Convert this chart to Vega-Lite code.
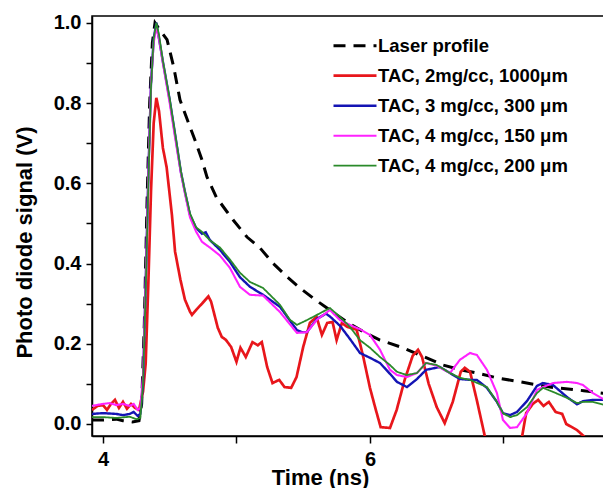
{
  "$schema": "https://vega.github.io/schema/vega-lite/v6.json",
  "width": 512,
  "height": 420,
  "autosize": {"type": "none"},
  "padding": {"left": 92, "top": 16, "right": 0, "bottom": 52},
  "config": {
    "font": "Liberation Sans",
    "view": {"stroke": "black", "strokeWidth": 1.5},
    "axis": {"grid": false, "domainColor": "black", "domainWidth": 1.5, "tickColor": "black", "tickWidth": 1.5, "labelFont": "Liberation Sans", "labelFontWeight": "bold", "labelFontSize": 20, "labelColor": "black", "titleFont": "Liberation Sans", "titleFontWeight": "bold", "titleFontSize": 22, "titleColor": "black"}
  },
  "data": {"values": [
    {"series":"Laser profile","t":3.918,"v":0.010},{"series":"Laser profile","t":4.00,"v":0.010},{"series":"Laser profile","t":4.10,"v":0.012},{"series":"Laser profile","t":4.15,"v":0.008},{"series":"Laser profile","t":4.22,"v":0.005},{"series":"Laser profile","t":4.27,"v":0.008},{"series":"Laser profile","t":4.29,"v":0.05},{"series":"Laser profile","t":4.31,"v":0.25},{"series":"Laser profile","t":4.33,"v":0.55},{"series":"Laser profile","t":4.35,"v":0.80},{"series":"Laser profile","t":4.37,"v":0.95},{"series":"Laser profile","t":4.39,"v":1.0},{"series":"Laser profile","t":4.42,"v":0.985},{"series":"Laser profile","t":4.48,"v":0.958},{"series":"Laser profile","t":4.53,"v":0.89},{"series":"Laser profile","t":4.577,"v":0.808},{"series":"Laser profile","t":4.63,"v":0.76},{"series":"Laser profile","t":4.689,"v":0.708},{"series":"Laser profile","t":4.74,"v":0.66},{"series":"Laser profile","t":4.779,"v":0.616},{"series":"Laser profile","t":4.85,"v":0.565},{"series":"Laser profile","t":4.929,"v":0.529},{"series":"Laser profile","t":4.974,"v":0.509},{"series":"Laser profile","t":5.079,"v":0.466},{"series":"Laser profile","t":5.176,"v":0.439},{"series":"Laser profile","t":5.273,"v":0.401},{"series":"Laser profile","t":5.378,"v":0.367},{"series":"Laser profile","t":5.476,"v":0.339},{"series":"Laser profile","t":5.573,"v":0.314},{"series":"Laser profile","t":5.678,"v":0.289},{"series":"Laser profile","t":5.828,"v":0.254},{"series":"Laser profile","t":5.95,"v":0.23},{"series":"Laser profile","t":6.075,"v":0.209},{"series":"Laser profile","t":6.247,"v":0.19},{"series":"Laser profile","t":6.40,"v":0.168},{"series":"Laser profile","t":6.547,"v":0.147},{"series":"Laser profile","t":6.68,"v":0.135},{"series":"Laser profile","t":6.80,"v":0.127},{"series":"Laser profile","t":6.95,"v":0.115},{"series":"Laser profile","t":7.124,"v":0.105},{"series":"Laser profile","t":7.348,"v":0.092},{"series":"Laser profile","t":7.60,"v":0.083},{"series":"Laser profile","t":7.76,"v":0.076},

    {"series":"TAC, 2mg/cc, 1000μm","t":3.918,"v":0.035},{"series":"TAC, 2mg/cc, 1000μm","t":3.96,"v":0.045},{"series":"TAC, 2mg/cc, 1000μm","t":4.00,"v":0.047},{"series":"TAC, 2mg/cc, 1000μm","t":4.03,"v":0.035},{"series":"TAC, 2mg/cc, 1000μm","t":4.06,"v":0.05},{"series":"TAC, 2mg/cc, 1000μm","t":4.09,"v":0.06},{"series":"TAC, 2mg/cc, 1000μm","t":4.12,"v":0.04},{"series":"TAC, 2mg/cc, 1000μm","t":4.15,"v":0.055},{"series":"TAC, 2mg/cc, 1000μm","t":4.18,"v":0.038},{"series":"TAC, 2mg/cc, 1000μm","t":4.21,"v":0.05},{"series":"TAC, 2mg/cc, 1000μm","t":4.24,"v":0.04},{"series":"TAC, 2mg/cc, 1000μm","t":4.27,"v":0.035},{"series":"TAC, 2mg/cc, 1000μm","t":4.30,"v":0.08},{"series":"TAC, 2mg/cc, 1000μm","t":4.32,"v":0.15},{"series":"TAC, 2mg/cc, 1000μm","t":4.34,"v":0.35},{"series":"TAC, 2mg/cc, 1000μm","t":4.36,"v":0.58},{"series":"TAC, 2mg/cc, 1000μm","t":4.38,"v":0.75},{"series":"TAC, 2mg/cc, 1000μm","t":4.40,"v":0.813},{"series":"TAC, 2mg/cc, 1000μm","t":4.42,"v":0.78},{"series":"TAC, 2mg/cc, 1000μm","t":4.449,"v":0.688},{"series":"TAC, 2mg/cc, 1000μm","t":4.477,"v":0.64},{"series":"TAC, 2mg/cc, 1000μm","t":4.517,"v":0.52},{"series":"TAC, 2mg/cc, 1000μm","t":4.54,"v":0.43},{"series":"TAC, 2mg/cc, 1000μm","t":4.58,"v":0.36},{"series":"TAC, 2mg/cc, 1000μm","t":4.614,"v":0.31},{"series":"TAC, 2mg/cc, 1000μm","t":4.652,"v":0.28},{"series":"TAC, 2mg/cc, 1000μm","t":4.667,"v":0.272},{"series":"TAC, 2mg/cc, 1000μm","t":4.70,"v":0.285},{"series":"TAC, 2mg/cc, 1000μm","t":4.742,"v":0.30},{"series":"TAC, 2mg/cc, 1000μm","t":4.79,"v":0.318},{"series":"TAC, 2mg/cc, 1000μm","t":4.81,"v":0.305},{"series":"TAC, 2mg/cc, 1000μm","t":4.86,"v":0.24},{"series":"TAC, 2mg/cc, 1000μm","t":4.89,"v":0.217},{"series":"TAC, 2mg/cc, 1000μm","t":4.92,"v":0.21},{"series":"TAC, 2mg/cc, 1000μm","t":4.96,"v":0.192},{"series":"TAC, 2mg/cc, 1000μm","t":5.00,"v":0.155},{"series":"TAC, 2mg/cc, 1000μm","t":5.03,"v":0.19},{"series":"TAC, 2mg/cc, 1000μm","t":5.07,"v":0.167},{"series":"TAC, 2mg/cc, 1000μm","t":5.12,"v":0.204},{"series":"TAC, 2mg/cc, 1000μm","t":5.16,"v":0.196},{"series":"TAC, 2mg/cc, 1000μm","t":5.19,"v":0.204},{"series":"TAC, 2mg/cc, 1000μm","t":5.23,"v":0.142},{"series":"TAC, 2mg/cc, 1000μm","t":5.27,"v":0.102},{"series":"TAC, 2mg/cc, 1000μm","t":5.32,"v":0.11},{"series":"TAC, 2mg/cc, 1000μm","t":5.36,"v":0.092},{"series":"TAC, 2mg/cc, 1000μm","t":5.41,"v":0.09},{"series":"TAC, 2mg/cc, 1000μm","t":5.45,"v":0.117},{"series":"TAC, 2mg/cc, 1000μm","t":5.50,"v":0.192},{"series":"TAC, 2mg/cc, 1000μm","t":5.55,"v":0.252},{"series":"TAC, 2mg/cc, 1000μm","t":5.60,"v":0.267},{"series":"TAC, 2mg/cc, 1000μm","t":5.64,"v":0.222},{"series":"TAC, 2mg/cc, 1000μm","t":5.68,"v":0.252},{"series":"TAC, 2mg/cc, 1000μm","t":5.72,"v":0.254},{"series":"TAC, 2mg/cc, 1000μm","t":5.75,"v":0.209},{"series":"TAC, 2mg/cc, 1000μm","t":5.79,"v":0.252},{"series":"TAC, 2mg/cc, 1000μm","t":5.83,"v":0.242},{"series":"TAC, 2mg/cc, 1000μm","t":5.90,"v":0.235},{"series":"TAC, 2mg/cc, 1000μm","t":5.95,"v":0.167},{"series":"TAC, 2mg/cc, 1000μm","t":6.00,"v":0.09},{"series":"TAC, 2mg/cc, 1000μm","t":6.04,"v":0.04},{"series":"TAC, 2mg/cc, 1000μm","t":6.08,"v":-0.008},{"series":"TAC, 2mg/cc, 1000μm","t":6.15,"v":-0.01},{"series":"TAC, 2mg/cc, 1000μm","t":6.20,"v":0.035},{"series":"TAC, 2mg/cc, 1000μm","t":6.26,"v":0.11},{"series":"TAC, 2mg/cc, 1000μm","t":6.32,"v":0.17},{"series":"TAC, 2mg/cc, 1000μm","t":6.36,"v":0.185},{"series":"TAC, 2mg/cc, 1000μm","t":6.39,"v":0.167},{"series":"TAC, 2mg/cc, 1000μm","t":6.44,"v":0.10},{"series":"TAC, 2mg/cc, 1000μm","t":6.50,"v":0.042},{"series":"TAC, 2mg/cc, 1000μm","t":6.56,"v":0.002},{"series":"TAC, 2mg/cc, 1000μm","t":6.62,"v":0.055},{"series":"TAC, 2mg/cc, 1000μm","t":6.68,"v":0.13},{"series":"TAC, 2mg/cc, 1000μm","t":6.71,"v":0.14},{"series":"TAC, 2mg/cc, 1000μm","t":6.75,"v":0.13},{"series":"TAC, 2mg/cc, 1000μm","t":6.80,"v":0.06},{"series":"TAC, 2mg/cc, 1000μm","t":6.86,"v":-0.03},{"series":"TAC, 2mg/cc, 1000μm","t":6.95,"v":-0.10},{"series":"TAC, 2mg/cc, 1000μm","t":7.05,"v":-0.10},{"series":"TAC, 2mg/cc, 1000μm","t":7.14,"v":-0.03},{"series":"TAC, 2mg/cc, 1000μm","t":7.17,"v":0.027},{"series":"TAC, 2mg/cc, 1000μm","t":7.22,"v":0.05},{"series":"TAC, 2mg/cc, 1000μm","t":7.26,"v":0.06},{"series":"TAC, 2mg/cc, 1000μm","t":7.30,"v":0.045},{"series":"TAC, 2mg/cc, 1000μm","t":7.34,"v":0.055},{"series":"TAC, 2mg/cc, 1000μm","t":7.39,"v":0.03},{"series":"TAC, 2mg/cc, 1000μm","t":7.44,"v":0.025},{"series":"TAC, 2mg/cc, 1000μm","t":7.47,"v":0.0},{"series":"TAC, 2mg/cc, 1000μm","t":7.55,"v":-0.015},{"series":"TAC, 2mg/cc, 1000μm","t":7.60,"v":-0.03},{"series":"TAC, 2mg/cc, 1000μm","t":7.65,"v":-0.05},

    {"series":"TAC, 3 mg/cc, 300 μm","t":3.918,"v":0.025},{"series":"TAC, 3 mg/cc, 300 μm","t":4.00,"v":0.027},{"series":"TAC, 3 mg/cc, 300 μm","t":4.10,"v":0.025},{"series":"TAC, 3 mg/cc, 300 μm","t":4.15,"v":0.022},{"series":"TAC, 3 mg/cc, 300 μm","t":4.20,"v":0.025},{"series":"TAC, 3 mg/cc, 300 μm","t":4.23,"v":0.030},{"series":"TAC, 3 mg/cc, 300 μm","t":4.26,"v":0.020},{"series":"TAC, 3 mg/cc, 300 μm","t":4.28,"v":0.025},{"series":"TAC, 3 mg/cc, 300 μm","t":4.30,"v":0.10},{"series":"TAC, 3 mg/cc, 300 μm","t":4.32,"v":0.35},{"series":"TAC, 3 mg/cc, 300 μm","t":4.34,"v":0.62},{"series":"TAC, 3 mg/cc, 300 μm","t":4.36,"v":0.85},{"series":"TAC, 3 mg/cc, 300 μm","t":4.38,"v":0.96},{"series":"TAC, 3 mg/cc, 300 μm","t":4.40,"v":1.0},{"series":"TAC, 3 mg/cc, 300 μm","t":4.42,"v":0.96},{"series":"TAC, 3 mg/cc, 300 μm","t":4.449,"v":0.903},{"series":"TAC, 3 mg/cc, 300 μm","t":4.50,"v":0.808},{"series":"TAC, 3 mg/cc, 300 μm","t":4.547,"v":0.708},{"series":"TAC, 3 mg/cc, 300 μm","t":4.584,"v":0.628},{"series":"TAC, 3 mg/cc, 300 μm","t":4.614,"v":0.579},{"series":"TAC, 3 mg/cc, 300 μm","t":4.652,"v":0.521},{"series":"TAC, 3 mg/cc, 300 μm","t":4.697,"v":0.489},{"series":"TAC, 3 mg/cc, 300 μm","t":4.742,"v":0.474},{"series":"TAC, 3 mg/cc, 300 μm","t":4.77,"v":0.478},{"series":"TAC, 3 mg/cc, 300 μm","t":4.80,"v":0.459},{"series":"TAC, 3 mg/cc, 300 μm","t":4.876,"v":0.434},{"series":"TAC, 3 mg/cc, 300 μm","t":4.951,"v":0.404},{"series":"TAC, 3 mg/cc, 300 μm","t":5.026,"v":0.366},{"series":"TAC, 3 mg/cc, 300 μm","t":5.101,"v":0.342},{"series":"TAC, 3 mg/cc, 300 μm","t":5.199,"v":0.322},{"series":"TAC, 3 mg/cc, 300 μm","t":5.326,"v":0.292},{"series":"TAC, 3 mg/cc, 300 μm","t":5.453,"v":0.234},{"series":"TAC, 3 mg/cc, 300 μm","t":5.49,"v":0.229},{"series":"TAC, 3 mg/cc, 300 μm","t":5.528,"v":0.229},{"series":"TAC, 3 mg/cc, 300 μm","t":5.603,"v":0.262},{"series":"TAC, 3 mg/cc, 300 μm","t":5.67,"v":0.275},{"series":"TAC, 3 mg/cc, 300 μm","t":5.70,"v":0.268},{"series":"TAC, 3 mg/cc, 300 μm","t":5.775,"v":0.245},{"series":"TAC, 3 mg/cc, 300 μm","t":5.85,"v":0.212},{"series":"TAC, 3 mg/cc, 300 μm","t":5.925,"v":0.177},{"series":"TAC, 3 mg/cc, 300 μm","t":6.00,"v":0.165},{"series":"TAC, 3 mg/cc, 300 μm","t":6.075,"v":0.152},{"series":"TAC, 3 mg/cc, 300 μm","t":6.15,"v":0.125},{"series":"TAC, 3 mg/cc, 300 μm","t":6.202,"v":0.105},{"series":"TAC, 3 mg/cc, 300 μm","t":6.277,"v":0.092},{"series":"TAC, 3 mg/cc, 300 μm","t":6.352,"v":0.112},{"series":"TAC, 3 mg/cc, 300 μm","t":6.42,"v":0.135},{"series":"TAC, 3 mg/cc, 300 μm","t":6.524,"v":0.142},{"series":"TAC, 3 mg/cc, 300 μm","t":6.599,"v":0.127},{"series":"TAC, 3 mg/cc, 300 μm","t":6.674,"v":0.112},{"series":"TAC, 3 mg/cc, 300 μm","t":6.749,"v":0.11},{"series":"TAC, 3 mg/cc, 300 μm","t":6.80,"v":0.11},{"series":"TAC, 3 mg/cc, 300 μm","t":6.876,"v":0.09},{"series":"TAC, 3 mg/cc, 300 μm","t":6.951,"v":0.055},{"series":"TAC, 3 mg/cc, 300 μm","t":6.996,"v":0.027},{"series":"TAC, 3 mg/cc, 300 μm","t":7.049,"v":0.022},{"series":"TAC, 3 mg/cc, 300 μm","t":7.101,"v":0.03},{"series":"TAC, 3 mg/cc, 300 μm","t":7.176,"v":0.057},{"series":"TAC, 3 mg/cc, 300 μm","t":7.251,"v":0.095},{"series":"TAC, 3 mg/cc, 300 μm","t":7.296,"v":0.102},{"series":"TAC, 3 mg/cc, 300 μm","t":7.371,"v":0.097},{"series":"TAC, 3 mg/cc, 300 μm","t":7.476,"v":0.067},{"series":"TAC, 3 mg/cc, 300 μm","t":7.551,"v":0.049},{"series":"TAC, 3 mg/cc, 300 μm","t":7.596,"v":0.057},{"series":"TAC, 3 mg/cc, 300 μm","t":7.670,"v":0.06},{"series":"TAC, 3 mg/cc, 300 μm","t":7.76,"v":0.06},

    {"series":"TAC, 4 mg/cc, 150 μm","t":3.918,"v":0.045},{"series":"TAC, 4 mg/cc, 150 μm","t":4.00,"v":0.05},{"series":"TAC, 4 mg/cc, 150 μm","t":4.05,"v":0.052},{"series":"TAC, 4 mg/cc, 150 μm","t":4.10,"v":0.047},{"series":"TAC, 4 mg/cc, 150 μm","t":4.15,"v":0.05},{"series":"TAC, 4 mg/cc, 150 μm","t":4.20,"v":0.045},{"series":"TAC, 4 mg/cc, 150 μm","t":4.23,"v":0.05},{"series":"TAC, 4 mg/cc, 150 μm","t":4.26,"v":0.035},{"series":"TAC, 4 mg/cc, 150 μm","t":4.28,"v":0.04},{"series":"TAC, 4 mg/cc, 150 μm","t":4.30,"v":0.12},{"series":"TAC, 4 mg/cc, 150 μm","t":4.32,"v":0.35},{"series":"TAC, 4 mg/cc, 150 μm","t":4.34,"v":0.62},{"series":"TAC, 4 mg/cc, 150 μm","t":4.36,"v":0.85},{"series":"TAC, 4 mg/cc, 150 μm","t":4.38,"v":0.95},{"series":"TAC, 4 mg/cc, 150 μm","t":4.40,"v":0.99},{"series":"TAC, 4 mg/cc, 150 μm","t":4.42,"v":0.96},{"series":"TAC, 4 mg/cc, 150 μm","t":4.449,"v":0.9},{"series":"TAC, 4 mg/cc, 150 μm","t":4.50,"v":0.80},{"series":"TAC, 4 mg/cc, 150 μm","t":4.547,"v":0.70},{"series":"TAC, 4 mg/cc, 150 μm","t":4.584,"v":0.625},{"series":"TAC, 4 mg/cc, 150 μm","t":4.614,"v":0.575},{"series":"TAC, 4 mg/cc, 150 μm","t":4.652,"v":0.515},{"series":"TAC, 4 mg/cc, 150 μm","t":4.697,"v":0.48},{"series":"TAC, 4 mg/cc, 150 μm","t":4.742,"v":0.454},{"series":"TAC, 4 mg/cc, 150 μm","t":4.80,"v":0.44},{"series":"TAC, 4 mg/cc, 150 μm","t":4.876,"v":0.42},{"series":"TAC, 4 mg/cc, 150 μm","t":4.951,"v":0.389},{"series":"TAC, 4 mg/cc, 150 μm","t":5.026,"v":0.342},{"series":"TAC, 4 mg/cc, 150 μm","t":5.101,"v":0.322},{"series":"TAC, 4 mg/cc, 150 μm","t":5.199,"v":0.32},{"series":"TAC, 4 mg/cc, 150 μm","t":5.326,"v":0.279},{"series":"TAC, 4 mg/cc, 150 μm","t":5.453,"v":0.227},{"series":"TAC, 4 mg/cc, 150 μm","t":5.528,"v":0.229},{"series":"TAC, 4 mg/cc, 150 μm","t":5.603,"v":0.26},{"series":"TAC, 4 mg/cc, 150 μm","t":5.70,"v":0.284},{"series":"TAC, 4 mg/cc, 150 μm","t":5.775,"v":0.259},{"series":"TAC, 4 mg/cc, 150 μm","t":5.85,"v":0.247},{"series":"TAC, 4 mg/cc, 150 μm","t":5.925,"v":0.236},{"series":"TAC, 4 mg/cc, 150 μm","t":6.00,"v":0.222},{"series":"TAC, 4 mg/cc, 150 μm","t":6.075,"v":0.185},{"series":"TAC, 4 mg/cc, 150 μm","t":6.15,"v":0.135},{"series":"TAC, 4 mg/cc, 150 μm","t":6.202,"v":0.122},{"series":"TAC, 4 mg/cc, 150 μm","t":6.277,"v":0.117},{"series":"TAC, 4 mg/cc, 150 μm","t":6.352,"v":0.127},{"series":"TAC, 4 mg/cc, 150 μm","t":6.42,"v":0.152},{"series":"TAC, 4 mg/cc, 150 μm","t":6.50,"v":0.145},{"series":"TAC, 4 mg/cc, 150 μm","t":6.599,"v":0.127},{"series":"TAC, 4 mg/cc, 150 μm","t":6.674,"v":0.16},{"series":"TAC, 4 mg/cc, 150 μm","t":6.749,"v":0.177},{"series":"TAC, 4 mg/cc, 150 μm","t":6.801,"v":0.172},{"series":"TAC, 4 mg/cc, 150 μm","t":6.876,"v":0.135},{"series":"TAC, 4 mg/cc, 150 μm","t":6.951,"v":0.077},{"series":"TAC, 4 mg/cc, 150 μm","t":6.996,"v":0.01},{"series":"TAC, 4 mg/cc, 150 μm","t":7.049,"v":-0.01},{"series":"TAC, 4 mg/cc, 150 μm","t":7.101,"v":-0.008},{"series":"TAC, 4 mg/cc, 150 μm","t":7.176,"v":0.027},{"series":"TAC, 4 mg/cc, 150 μm","t":7.251,"v":0.085},{"series":"TAC, 4 mg/cc, 150 μm","t":7.296,"v":0.092},{"series":"TAC, 4 mg/cc, 150 μm","t":7.371,"v":0.102},{"series":"TAC, 4 mg/cc, 150 μm","t":7.476,"v":0.105},{"series":"TAC, 4 mg/cc, 150 μm","t":7.551,"v":0.102},{"series":"TAC, 4 mg/cc, 150 μm","t":7.596,"v":0.097},{"series":"TAC, 4 mg/cc, 150 μm","t":7.670,"v":0.077},{"series":"TAC, 4 mg/cc, 150 μm","t":7.76,"v":0.06},

    {"series":"TAC, 4 mg/cc, 200 μm","t":3.918,"v":0.017},{"series":"TAC, 4 mg/cc, 200 μm","t":4.00,"v":0.017},{"series":"TAC, 4 mg/cc, 200 μm","t":4.10,"v":0.015},{"series":"TAC, 4 mg/cc, 200 μm","t":4.20,"v":0.018},{"series":"TAC, 4 mg/cc, 200 μm","t":4.25,"v":0.012},{"series":"TAC, 4 mg/cc, 200 μm","t":4.28,"v":0.015},{"series":"TAC, 4 mg/cc, 200 μm","t":4.30,"v":0.10},{"series":"TAC, 4 mg/cc, 200 μm","t":4.32,"v":0.33},{"series":"TAC, 4 mg/cc, 200 μm","t":4.34,"v":0.60},{"series":"TAC, 4 mg/cc, 200 μm","t":4.36,"v":0.84},{"series":"TAC, 4 mg/cc, 200 μm","t":4.38,"v":0.96},{"series":"TAC, 4 mg/cc, 200 μm","t":4.40,"v":1.0},{"series":"TAC, 4 mg/cc, 200 μm","t":4.42,"v":0.97},{"series":"TAC, 4 mg/cc, 200 μm","t":4.449,"v":0.905},{"series":"TAC, 4 mg/cc, 200 μm","t":4.50,"v":0.81},{"series":"TAC, 4 mg/cc, 200 μm","t":4.547,"v":0.71},{"series":"TAC, 4 mg/cc, 200 μm","t":4.584,"v":0.63},{"series":"TAC, 4 mg/cc, 200 μm","t":4.614,"v":0.58},{"series":"TAC, 4 mg/cc, 200 μm","t":4.652,"v":0.525},{"series":"TAC, 4 mg/cc, 200 μm","t":4.697,"v":0.49},{"series":"TAC, 4 mg/cc, 200 μm","t":4.742,"v":0.479},{"series":"TAC, 4 mg/cc, 200 μm","t":4.80,"v":0.458},{"series":"TAC, 4 mg/cc, 200 μm","t":4.876,"v":0.44},{"series":"TAC, 4 mg/cc, 200 μm","t":4.951,"v":0.41},{"series":"TAC, 4 mg/cc, 200 μm","t":5.026,"v":0.377},{"series":"TAC, 4 mg/cc, 200 μm","t":5.101,"v":0.354},{"series":"TAC, 4 mg/cc, 200 μm","t":5.199,"v":0.339},{"series":"TAC, 4 mg/cc, 200 μm","t":5.326,"v":0.297},{"series":"TAC, 4 mg/cc, 200 μm","t":5.40,"v":0.26},{"series":"TAC, 4 mg/cc, 200 μm","t":5.453,"v":0.247},{"series":"TAC, 4 mg/cc, 200 μm","t":5.528,"v":0.259},{"series":"TAC, 4 mg/cc, 200 μm","t":5.603,"v":0.272},{"series":"TAC, 4 mg/cc, 200 μm","t":5.70,"v":0.289},{"series":"TAC, 4 mg/cc, 200 μm","t":5.775,"v":0.267},{"series":"TAC, 4 mg/cc, 200 μm","t":5.85,"v":0.242},{"series":"TAC, 4 mg/cc, 200 μm","t":5.925,"v":0.209},{"series":"TAC, 4 mg/cc, 200 μm","t":6.00,"v":0.19},{"series":"TAC, 4 mg/cc, 200 μm","t":6.075,"v":0.167},{"series":"TAC, 4 mg/cc, 200 μm","t":6.15,"v":0.147},{"series":"TAC, 4 mg/cc, 200 μm","t":6.202,"v":0.13},{"series":"TAC, 4 mg/cc, 200 μm","t":6.277,"v":0.122},{"series":"TAC, 4 mg/cc, 200 μm","t":6.352,"v":0.127},{"series":"TAC, 4 mg/cc, 200 μm","t":6.42,"v":0.152},{"series":"TAC, 4 mg/cc, 200 μm","t":6.50,"v":0.147},{"series":"TAC, 4 mg/cc, 200 μm","t":6.599,"v":0.127},{"series":"TAC, 4 mg/cc, 200 μm","t":6.674,"v":0.115},{"series":"TAC, 4 mg/cc, 200 μm","t":6.749,"v":0.11},{"series":"TAC, 4 mg/cc, 200 μm","t":6.876,"v":0.092},{"series":"TAC, 4 mg/cc, 200 μm","t":6.951,"v":0.055},{"series":"TAC, 4 mg/cc, 200 μm","t":6.996,"v":0.027},{"series":"TAC, 4 mg/cc, 200 μm","t":7.049,"v":0.017},{"series":"TAC, 4 mg/cc, 200 μm","t":7.101,"v":0.022},{"series":"TAC, 4 mg/cc, 200 μm","t":7.176,"v":0.042},{"series":"TAC, 4 mg/cc, 200 μm","t":7.251,"v":0.077},{"series":"TAC, 4 mg/cc, 200 μm","t":7.296,"v":0.09},{"series":"TAC, 4 mg/cc, 200 μm","t":7.371,"v":0.08},{"series":"TAC, 4 mg/cc, 200 μm","t":7.476,"v":0.065},{"series":"TAC, 4 mg/cc, 200 μm","t":7.551,"v":0.052},{"series":"TAC, 4 mg/cc, 200 μm","t":7.596,"v":0.055},{"series":"TAC, 4 mg/cc, 200 μm","t":7.670,"v":0.055},{"series":"TAC, 4 mg/cc, 200 μm","t":7.76,"v":0.047}
  ]},
  "mark": {"type": "line", "clip": true},
  "encoding": {
    "x": {"field": "t", "type": "quantitative", "scale": {"domain": [3.918, 7.753], "nice": false, "zero": false},
      "axis": {"values": [4, 5, 6, 7], "labelExpr": "datum.value % 2 == 0 ? datum.label : ''", "tickSize": 7, "labelPadding": 6, "title": "Time (ns)", "titlePadding": -2, "titleX": 228}},
    "y": {"field": "v", "type": "quantitative", "scale": {"domain": [-0.030, 1.017], "nice": false, "zero": false},
      "axis": {"values": [0, 0.1, 0.2, 0.3, 0.4, 0.5, 0.6, 0.7, 0.8, 0.9, 1.0], "labelExpr": "round(datum.value*10) % 2 == 0 ? format(datum.value, '.1f') : ''", "tickSize": 6, "labelPadding": 5, "title": "Photo diode signal (V)", "titlePadding": 17, "titleY": 226}},
    "color": {"field": "series", "type": "nominal",
      "scale": {"domain": ["Laser profile", "TAC, 2mg/cc, 1000μm", "TAC, 3 mg/cc, 300 μm", "TAC, 4 mg/cc, 150 μm", "TAC, 4 mg/cc, 200 μm"], "range": ["#000000", "#e8161b", "#1414b4", "#ff22ff", "#2a8a2a"]},
      "legend": {"orient": "none", "legendX": 240, "legendY": 15, "title": null, "padding": 0, "symbolType": "stroke", "symbolSize": 1849, "symbolStrokeWidth": 2, "labelFont": "Liberation Sans", "labelFontWeight": "bold", "labelFontSize": 18.5, "labelColor": "black", "labelOffset": 0, "rowPadding": 0, "clipHeight": 29.4, "labelLimit": 400}},
    "strokeDash": {"field": "series", "type": "nominal",
      "scale": {"domain": ["Laser profile", "TAC, 2mg/cc, 1000μm", "TAC, 3 mg/cc, 300 μm", "TAC, 4 mg/cc, 150 μm", "TAC, 4 mg/cc, 200 μm"], "range": [[12, 8], [1, 0], [1, 0], [1, 0], [1, 0]]},
      "legend": {"orient": "none", "legendX": 240, "legendY": 15, "title": null, "padding": 0, "symbolType": "stroke", "symbolSize": 1849, "symbolStrokeWidth": 2, "labelFont": "Liberation Sans", "labelFontWeight": "bold", "labelFontSize": 18.5, "labelColor": "black", "labelOffset": 0, "rowPadding": 0, "clipHeight": 29.4, "labelLimit": 400}},
    "strokeWidth": {"field": "series", "type": "nominal",
      "scale": {"domain": ["Laser profile", "TAC, 2mg/cc, 1000μm", "TAC, 3 mg/cc, 300 μm", "TAC, 4 mg/cc, 150 μm", "TAC, 4 mg/cc, 200 μm"], "range": [3, 1.8, 1.8, 1.8, 1.8]},
      "legend": null}
  }
}
